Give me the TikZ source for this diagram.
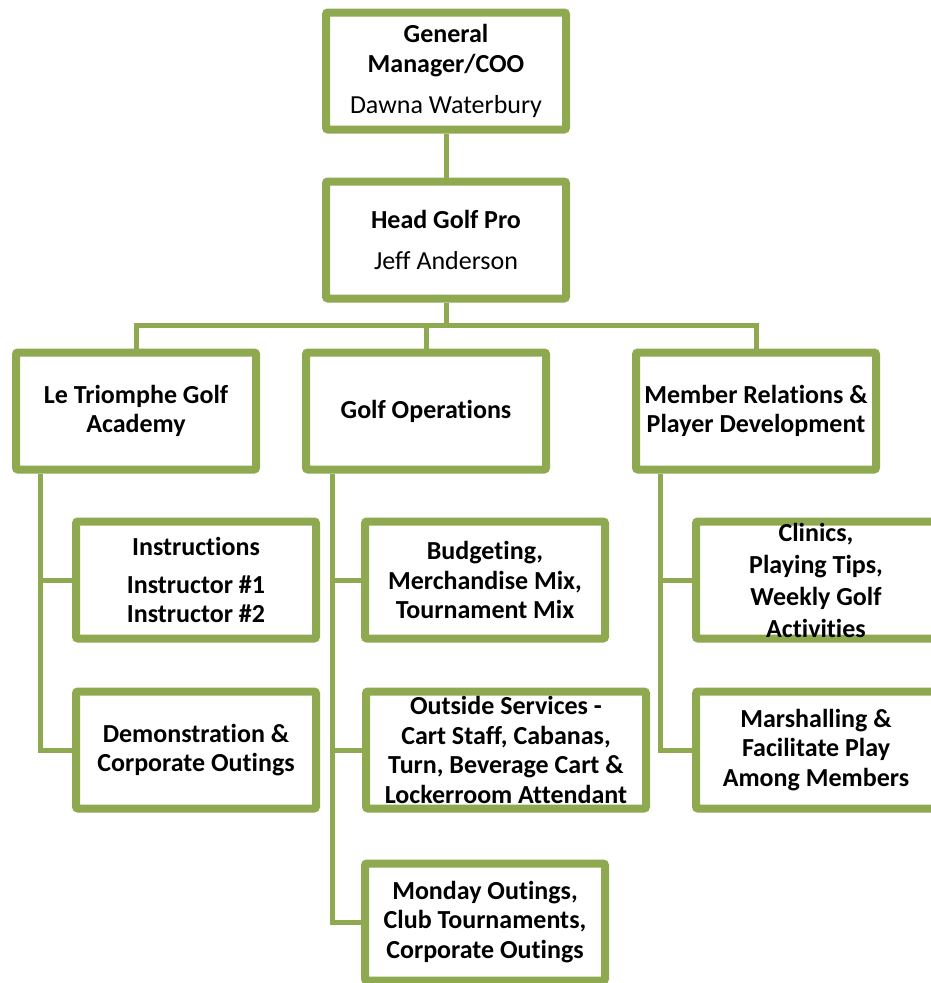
\documentclass[tikz,border=0pt]{standalone}
\usepackage{fontspec}
\setmainfont[Ligatures={NoCommon}]{Carlito}
\usetikzlibrary{shadows,backgrounds}
\definecolor{olivegr}{RGB}{142,169,80}
\tikzset{
  box/.style={draw=olivegr, line width=8pt, fill=white, rounded corners=2pt,
    minimum width=240, minimum height=117, align=center, inner sep=0pt,
    font=\fontsize{26}{29.5}\selectfont\bfseries,
    drop shadow={shadow xshift=1pt, shadow yshift=-3pt, opacity=0.25}},
  conn/.style={draw=olivegr, line width=5pt}
}
\begin{document}
\begin{tikzpicture}[x=1pt,y=-1pt]
\useasboundingbox (0,0) rectangle (931,983);
\clip (0,0) rectangle (931,983);
\node[box] (gm) at (446,71) {General\\Manager/COO\\[11.5pt]\mdseries Dawna Waterbury};
\node[box] (head) at (446,240) {Head Golf Pro\\[11.5pt]\mdseries Jeff Anderson};
\node[box] (acad) at (136,411) {Le Triomphe Golf\\Academy};
\node[box] (ops) at (426,411) {Golf Operations};
\node[box] (mem) at (756,411) {Member Relations \&\\Player Development};
\node[box] (instr) at (196,580) {Instructions\\[8pt]Instructor \#1\\Instructor \#2};
\node[box] (demo) at (196,750) {Demonstration \&\\Corporate Outings};
\node[box] (budget) at (485,580) {Budgeting,\\Merchandise Mix,\\Tournament Mix};
\node[box, minimum width=280] (outside) at (506,750) {Outside Services -\\Cart Staff, Cabanas,\\Turn, Beverage Cart \&\\Lockerroom Attendant};
\node[box] (monday) at (485,922) {Monday Outings,\\Club Tournaments,\\Corporate Outings};
\node[box] (clin) at (816,580) {Clinics,\\[2.5pt]Playing Tips,\\[2.5pt]Weekly Golf\\[2.5pt]Activities};
\node[box] (marsh) at (816,750) {Marshalling \&\\Facilitate Play\\Among Members};
\coordinate (bar) at (446,325);
\coordinate (aL) at (40,474);
\coordinate (oL) at (332,474);
\coordinate (mL) at (660,474);
\begin{scope}[on background layer]
\draw[conn] (gm.south) -- (head.north);
\draw[conn] (head.south) -- (bar);
\draw[conn] (acad.north) |- (bar) -| (mem.north);
\draw[conn] (ops.north) -- (ops.north |- bar);
\draw[conn] (aL) |- (demo.west);
\draw[conn] (aL |- instr.west) -- (instr.west);
\draw[conn] (oL) |- (monday.west);
\draw[conn] (oL |- budget.west) -- (budget.west);
\draw[conn] (oL |- outside.west) -- (outside.west);
\draw[conn] (mL) |- (marsh.west);
\draw[conn] (mL |- clin.west) -- (clin.west);
\end{scope}
\end{tikzpicture}
\end{document}
